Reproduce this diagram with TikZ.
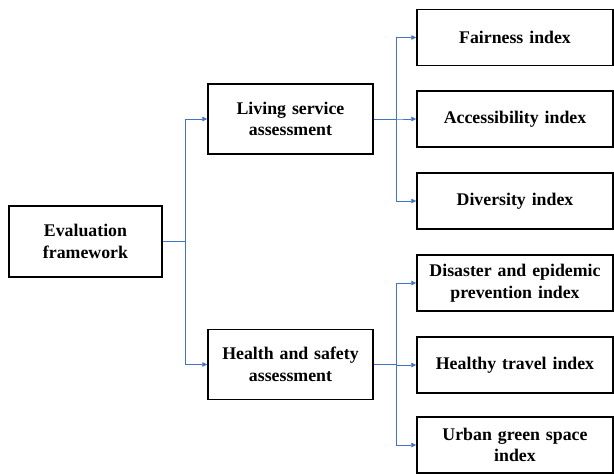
\documentclass[tikz,border=0pt]{standalone}
\usepackage{fontspec}
\setmainfont{Liberation Serif}
\usepackage{tikz}
\usetikzlibrary{arrows.meta, positioning, calc}
\usepackage{xcolor}
\definecolor{lien}{RGB}{68,114,196}

\begin{document}
\begin{tikzpicture}[
    x=1pt, y=-1pt,
    boite/.style={draw=black, line width=1.5pt, fill=white, align=center,
                  inner sep=2pt, font=\fontsize{17.8}{21.7}\selectfont\bfseries},
    racine/.style={boite, minimum width=153pt, minimum height=71pt, text width=145pt},
    axe/.style={boite, minimum width=165pt, minimum height=70pt, text width=160pt},
    indice/.style={boite, minimum width=196pt, minimum height=56pt, text width=190pt},
    fleche/.style={-{Triangle[length=5pt,width=4.5pt]}, lien, line width=0.8pt}
  ]
    \useasboundingbox (0,0) rectangle (614,474);

    % Noeuds
    \node[racine] (eval)   at (85.5,241.5) {Evaluation\\framework};
    \node[axe]    (living) at (290.5,119)  {Living service\\assessment};
    \node[axe]    (health) at (290.5,364.5) {Health and safety\\assessment};

    \node[indice] (fair)     at (515,37.5) {Fairness index};
    \node[indice] (access)   at (515,119)  {Accessibility index};
    \node[indice] (divers)   at (515,201)  {Diversity index};
    \node[indice] (disaster) at (515,283)  {Disaster and epidemic\\prevention index};
    \node[indice] (travel)   at (515,365)  {Healthy travel index};
    \node[indice] (green)    at (515,445)  {Urban green space\\index};

    % Points de branchement
    \coordinate (j0) at (185,241.5);
    \coordinate (j1) at (396,119);
    \coordinate (j2) at (396,364.5);

    % Premier niveau
    \draw[fleche] (eval.east) -- (j0) |- (living.west);
    \draw[fleche] (eval.east) -- (j0) |- (health.west);

    % Second niveau
    \draw[fleche] (living.east) -- (j1) |- (fair.west);
    \draw[fleche] (living.east) -- (j1) |- (access.west);
    \draw[fleche] (living.east) -- (j1) |- (divers.west);
    \draw[fleche] (health.east) -- (j2) |- (disaster.west);
    \draw[fleche] (health.east) -- (j2) |- (travel.west);
    \draw[fleche] (health.east) -- (j2) |- (green.west);
\end{tikzpicture}
\end{document}
